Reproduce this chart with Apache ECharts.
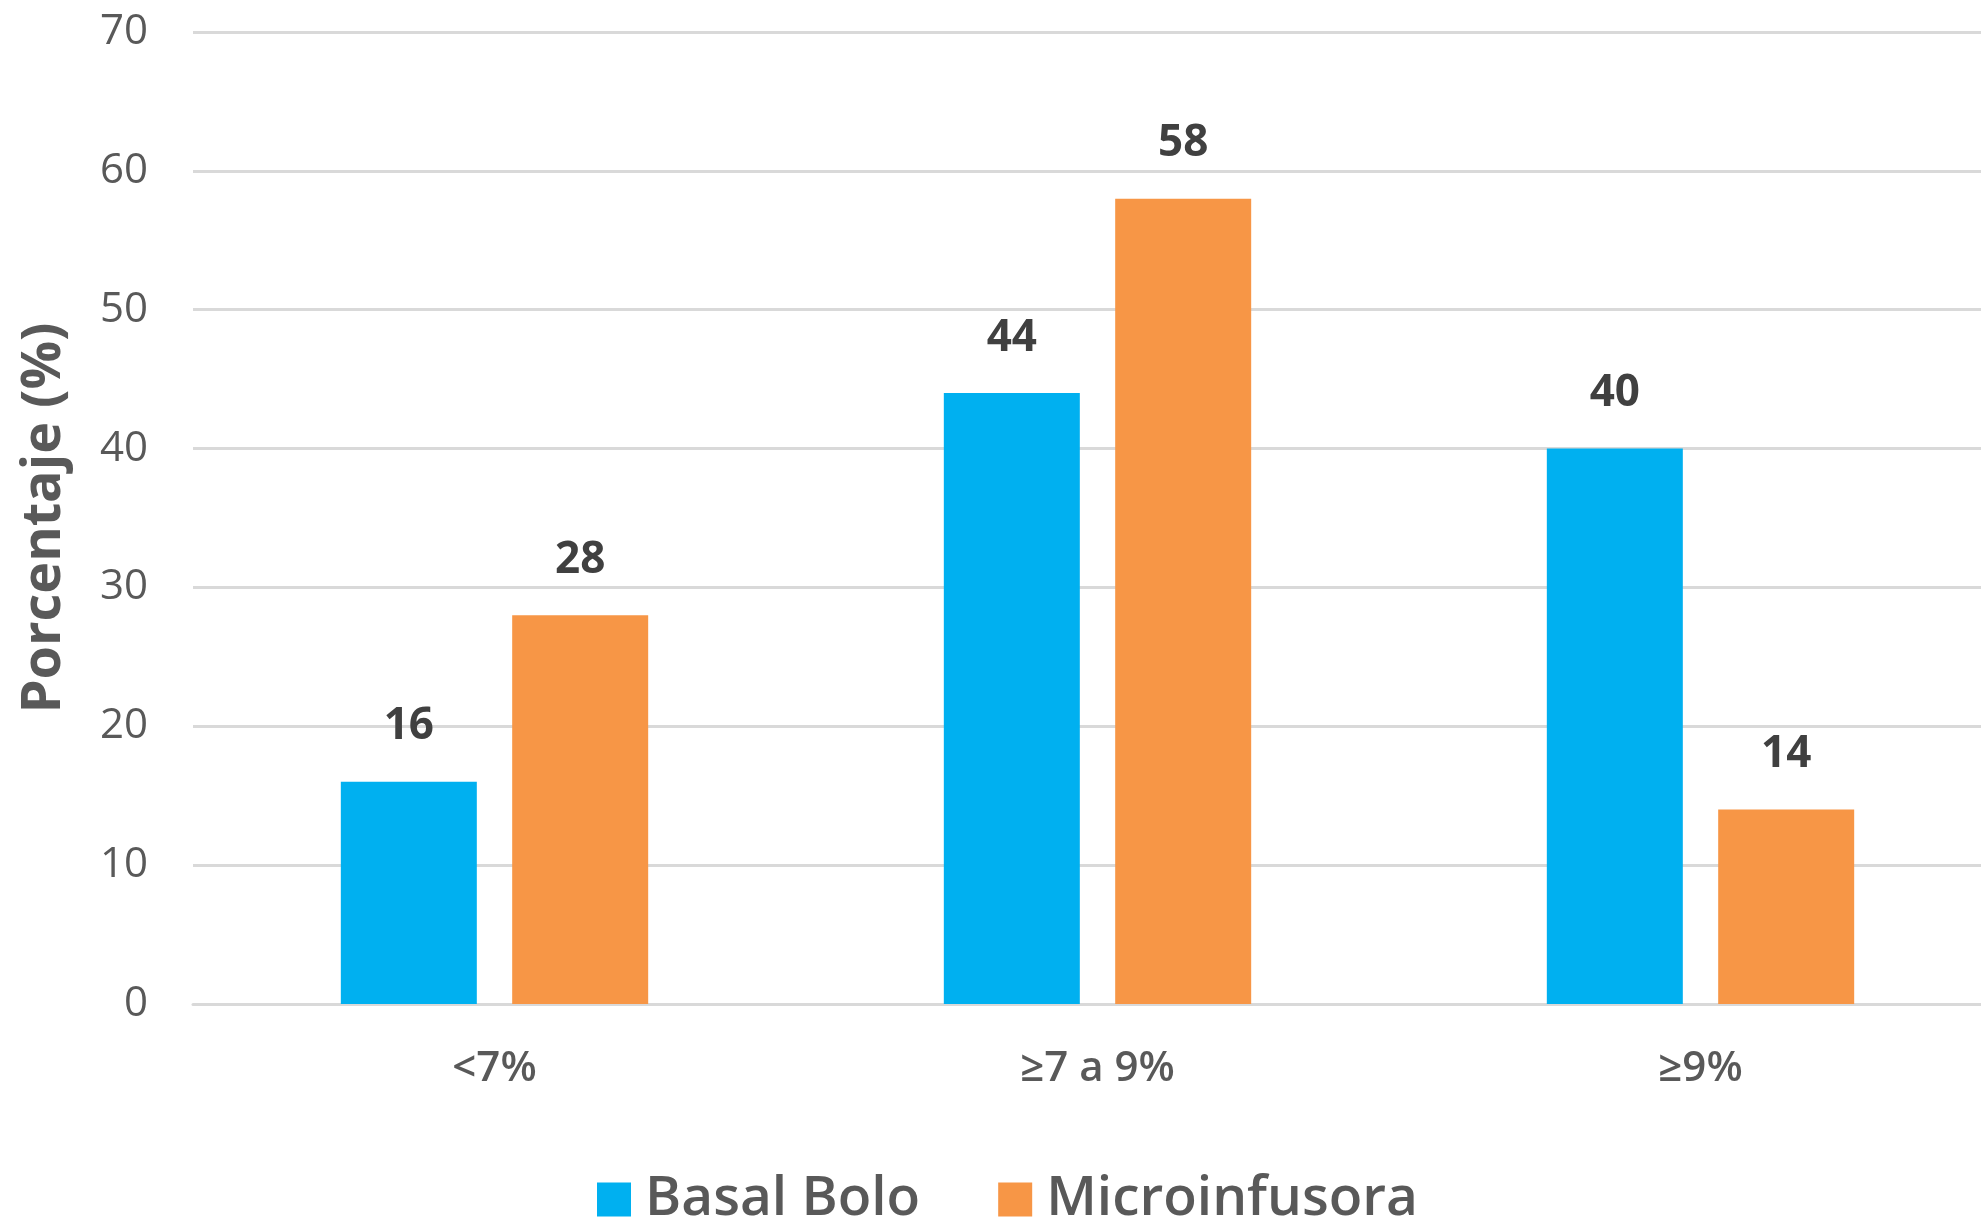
<!DOCTYPE html>
<html>
<head>
<meta charset="utf-8">
<script src="https://cdn.jsdelivr.net/npm/echarts@6/dist/echarts.min.js"></script>
<style>
  html, body { margin: 0; padding: 0; background: #fff; }
  #chart { width: 1981px; height: 1221px; }
</style>
</head>
<body>
<div id="chart"></div>
<script>
const categories = ["<7%", "≥7 a 9%", "≥9%"];
const seriesNames = ["Basal Bolo", "Microinfusora"];
const basalBolo = [16, 44, 40];
const microinfusora = [28, 58, 14];
const colors = ["#00B0F0", "#F79646"];

const chart = echarts.init(document.getElementById("chart"));

const barLabel = {
  show: true,
  position: "top",
  distance: 33,
  fontSize: 44,
  fontWeight: "bold",
  color: "#404040",
};

const option = {
  animation: false,
  textStyle: { fontFamily: "Open Sans" },
  grid: {
    left: 193,
    right: -21,
    top: 32,
    bottom: 217,
    outerBoundsMode: "none",
  },
  legend: {
    data: seriesNames,
    bottom: -11,
    left: 592,
    itemWidth: 34,
    itemHeight: 34,
    itemGap: 78,
    icon: "rect",
    textStyle: {
      fontSize: 55,
      fontWeight: 600,
      color: "#595959",
      padding: [0, 0, 0, 9],
    },
  },
  xAxis: {
    type: "category",
    data: categories,
    axisTick: { show: false },
    axisLine: { lineStyle: { color: "#d9d9d9", width: 3 } },
    axisLabel: {
      margin: 44,
      fontSize: 42,
      fontWeight: 600,
      color: "#595959",
    },
  },
  yAxis: {
    type: "value",
    min: 0,
    max: 70,
    interval: 10,
    name: "Porcentaje (%)",
    nameLocation: "middle",
    nameGap: 121,
    nameTextStyle: {
      fontSize: 54,
      fontWeight: "bold",
      color: "#595959",
    },
    axisLine: { show: false },
    axisTick: { show: false },
    axisLabel: {
      margin: 45,
      fontSize: 42,
      color: "#595959",
      padding: [4, 0, 0, 0],
    },
    splitLine: { lineStyle: { color: "#d9d9d9", width: 3 } },
  },
  series: [
    {
      name: seriesNames[0],
      type: "bar",
      data: basalBolo,
      barWidth: 136,
      barGap: "26%",
      itemStyle: { color: colors[0] },
      label: barLabel,
    },
    {
      name: seriesNames[1],
      type: "bar",
      data: microinfusora,
      barWidth: 136,
      barGap: "26%",
      itemStyle: { color: colors[1] },
      label: barLabel,
    },
  ],
};

chart.setOption(option);
</script>
</body>
</html>
